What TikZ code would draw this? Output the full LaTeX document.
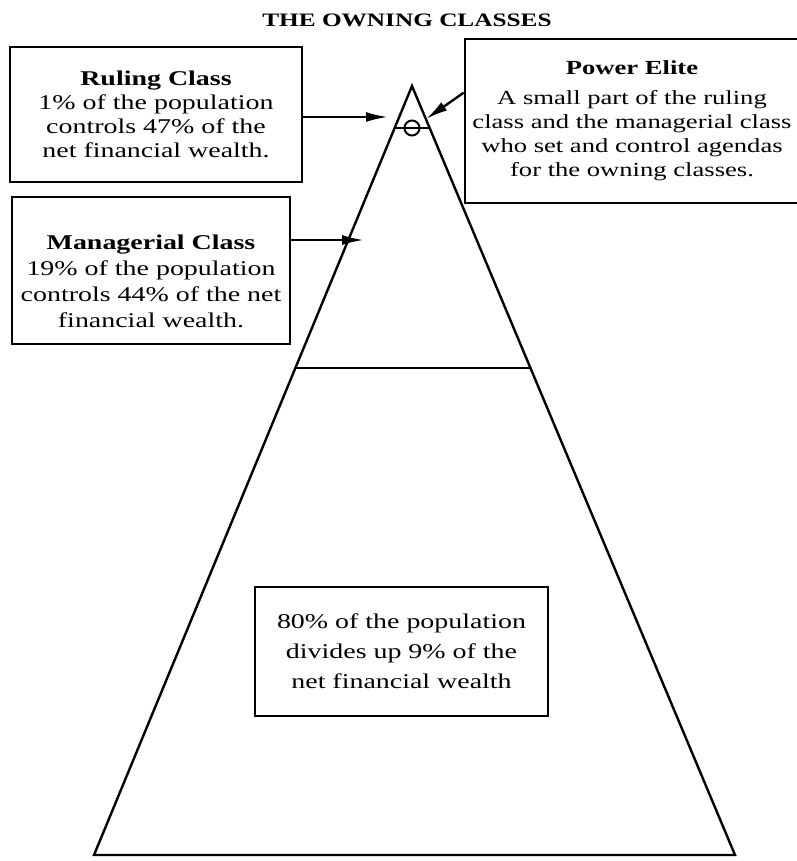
\documentclass[tikz,border=0pt]{standalone}
\usepackage{fontspec}
\setmainfont[FakeStretch=1.33]{Liberation Serif}
\usetikzlibrary{positioning,calc,arrows.meta}
\tikzset{
  infobox/.style={draw,line width=2.6pt,align=center,inner sep=0pt},
  pointer/.style={line width=2.4pt,-{Latex[length=22pt,width=10pt]}},
  side/.style={line width=2.4pt,line join=miter}
}
\begin{document}
\begin{tikzpicture}[x=1pt,y=-1pt]
  \useasboundingbox (0,0) rectangle (796,861);
  \node[font=\bfseries\fontsize{19}{20}\selectfont,anchor=base] (title) at (407,27) {THE OWNING CLASSES};
  % pyramid
  \coordinate (apex) at (412,86);
  \coordinate (bl) at (94,855);
  \coordinate (br) at (735,855);
  \draw[side] (apex) -- (bl) -- (br) -- cycle;
  \draw[side] ($(apex)!0.367!(bl)$) -- ($(apex)!0.367!(br)$);
  \draw[line width=2pt] ($(apex)!0.055!(bl)$) -- ($(apex)!0.055!(br)$);
  \node[circle,draw,line width=2pt,inner sep=0pt,minimum size=15pt] (elite) at (412,128) {};
  % boxes
  \node[infobox,minimum width=292pt,minimum height=135pt,font=\fontsize{21}{24}\selectfont] (ruling) at (156,114.5)
    {{\bfseries Ruling Class}\\1\% of the population\\controls 47\% of the\\net financial wealth.};
  \node[infobox,minimum width=278pt,minimum height=147pt,font=\fontsize{21}{26}\selectfont] (managerial) at (151,270.5)
    {\rule{0pt}{36pt}{\bfseries Managerial Class}\\19\% of the population\\controls 44\% of the net\\financial wealth.};
  \node[infobox,minimum width=334pt,minimum height=164pt,font=\fontsize{20}{24}\selectfont] (power) at (632,121)
    {{\bfseries Power Elite}\\[6pt]A small part of the ruling\\class and the managerial class\\who set and control agendas\\for the owning classes.};
  \node[infobox,minimum width=293pt,minimum height=129pt,font=\fontsize{21}{30}\selectfont] (masses) at (401.5,651.5)
    {80\% of the population\\divides up 9\% of the\\net financial wealth};
  % pointers
  \coordinate (rtip) at (388,117);
  \coordinate (mtip) at (364,240);
  \coordinate (etip) at (426,119);
  \draw[pointer] (ruling.east |- rtip) -- (rtip);
  \draw[pointer] (managerial.east |- mtip) -- (mtip);
  \draw[pointer] ($(power.north west)!0.33!(power.south west)$) -- (etip);
\end{tikzpicture}
\end{document}
